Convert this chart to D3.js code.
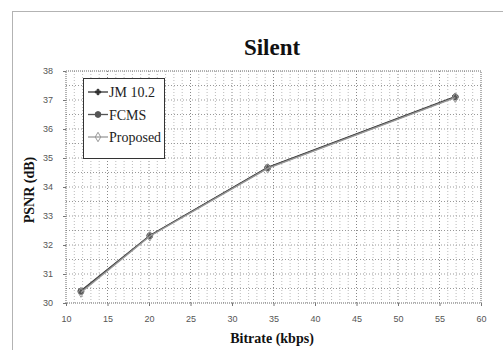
<!DOCTYPE html>
<html>
<head>
<meta charset="utf-8">
<script src="https://cdn.jsdelivr.net/npm/d3@7"></script>
<style>
  html, body { margin: 0; padding: 0; background: #fff; }
  svg { display: block; }
  .serif { font-family: 'Liberation Serif', 'Times New Roman', serif; }
  .tick text { font-family: 'Liberation Sans', 'DejaVu Sans', sans-serif; }
</style>
</head>
<body>
<svg id="chart" width="503" height="350"></svg>
<script>
// Rate-distortion data for the "Silent" sequence
const bitrate = [11.8, 20.1, 34.3, 56.9];
const jm102 = [30.42, 32.33, 34.68, 37.12];
const fcms = [30.40, 32.32, 34.66, 37.10];
const proposed = [30.36, 32.30, 34.64, 37.08];
const seriesNames = ["JM 10.2", "FCMS", "Proposed"];
const xTicks = [10, 15, 20, 25, 30, 35, 40, 45, 50, 55, 60];
const yTicks = [30, 31, 32, 33, 34, 35, 36, 37, 38];

const svg = d3.select("#chart");
const W = 503, H = 350;
const m = { left: 66, right: 22, top: 71, bottom: 47 };
const pw = W - m.left - m.right, ph = H - m.top - m.bottom;

const x = d3.scaleLinear().domain([10, 60]).range([m.left, m.left + pw]);
const y = d3.scaleLinear().domain([30, 38]).range([m.top + ph, m.top]);

// dotted outer frame
svg.append("rect")
  .attr("x", 12.5).attr("y", 11.5).attr("width", 500).attr("height", 350)
  .attr("fill", "none").attr("stroke", "#666").attr("stroke-width", 1)
  .attr("stroke-dasharray", "1,1");

// grid
const g = svg.append("g");
g.selectAll("line.vg").data(d3.range(11, 60, 1)).join("line")
  .attr("x1", d => x(d)).attr("x2", d => x(d))
  .attr("y1", m.top).attr("y2", m.top + ph)
  .attr("stroke", d => d % 5 === 0 ? "#888" : "#bbb").attr("stroke-width", 1)
  .attr("stroke-dasharray", "1,2");
g.selectAll("line.hg").data(d3.range(30.5, 38, 0.5)).join("line")
  .attr("x1", m.left).attr("x2", m.left + pw)
  .attr("y1", d => y(d)).attr("y2", d => y(d))
  .attr("stroke", "#999").attr("stroke-width", 1)
  .attr("stroke-dasharray", "1,2");

// plot border
svg.append("rect")
  .attr("x", m.left).attr("y", m.top).attr("width", pw).attr("height", ph)
  .attr("fill", "none").attr("stroke", "#666").attr("stroke-width", 1)
  .attr("stroke-dasharray", "1,1");

// axes
const xAxis = d3.axisBottom(x).tickValues(xTicks).tickSize(3).tickPadding(10);
const yAxis = d3.axisLeft(y).tickValues(yTicks).tickSize(3).tickPadding(10);
const xa = svg.append("g").attr("transform", `translate(0,${m.top + ph})`).call(xAxis);
const ya = svg.append("g").attr("transform", `translate(${m.left},0)`).call(yAxis);
[xa, ya].forEach(a => {
  a.attr("font-family", null);
  a.select(".domain").remove();
  a.selectAll(".tick line").attr("stroke", "#777");
  a.selectAll(".tick text").attr("font-size", 9).attr("fill", "#555");
});

// series
const series = [
  { name: seriesNames[0], v: jm102, color: "#333", marker: "cross" },
  { name: seriesNames[1], v: fcms, color: "#555", marker: "circle" },
  { name: seriesNames[2], v: proposed, color: "#999", marker: "diamond" }
];
const line = d3.line().x(d => x(d[0])).y(d => y(d[1]));
const symbolFor = k => k === "cross" ? d3.symbolCross : k === "circle" ? d3.symbolCircle : d3.symbolDiamond;
const symSize = k => k === "circle" ? 26 : k === "cross" ? 16 : 26;

series.forEach(s => {
  const pts = bitrate.map((b, i) => [b, s.v[i]]);
  svg.append("path").datum(pts).attr("d", line)
    .attr("fill", "none").attr("stroke", s.color).attr("stroke-width", 1.3);
  svg.selectAll(null).data(pts).join("path")
    .attr("transform", d => `translate(${x(d[0])},${y(d[1])})`)
    .attr("d", d3.symbol().type(symbolFor(s.marker)).size(symSize(s.marker)))
    .attr("fill", s.marker === "diamond" ? "none" : s.color)
    .attr("stroke", s.color).attr("stroke-width", 1);
});

// legend
const lg = svg.append("g");
lg.append("rect").attr("x", 83.5).attr("y", 78.5).attr("width", 81).attr("height", 80)
  .attr("fill", "#fff").attr("stroke", "#333").attr("stroke-width", 1);
series.forEach((s, i) => {
  const yy = 92 + i * 22.5;
  lg.append("line").attr("x1", 88).attr("x2", 108).attr("y1", yy).attr("y2", yy)
    .attr("stroke", s.color).attr("stroke-width", 1.3);
  lg.append("path").attr("transform", `translate(98,${yy})`)
    .attr("d", d3.symbol().type(symbolFor(s.marker)).size(symSize(s.marker)))
    .attr("fill", s.marker === "diamond" ? "none" : s.color)
    .attr("stroke", s.color).attr("stroke-width", 1);
  lg.append("text").attr("class", "serif").attr("x", 109).attr("y", yy + 5)
    .attr("font-size", 14).attr("fill", "#222").text(s.name);
});

// titles
svg.append("text").attr("class", "serif").attr("x", 272).attr("y", 55).attr("text-anchor", "middle")
  .attr("font-weight", "bold").attr("font-size", 23).attr("fill", "#111").text("Silent");
svg.append("text").attr("class", "serif").attr("x", 272).attr("y", 343).attr("text-anchor", "middle")
  .attr("font-weight", "bold").attr("font-size", 14).attr("fill", "#111").text("Bitrate (kbps)");
svg.append("text").attr("class", "serif").attr("transform", "translate(34,190) rotate(-90)").attr("text-anchor", "middle")
  .attr("font-weight", "bold").attr("font-size", 14).attr("fill", "#111").text("PSNR (dB)");
</script>
</body>
</html>
